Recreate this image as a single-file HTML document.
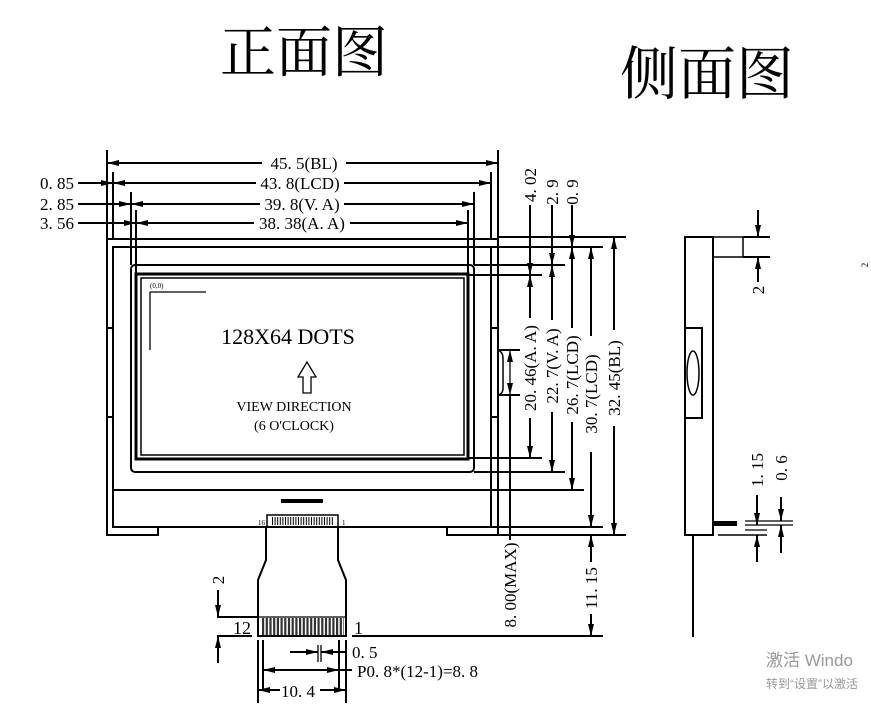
<!DOCTYPE html>
<html><head><meta charset="utf-8"><style>
html,body{margin:0;padding:0;background:#fff;}
svg{display:block;font-family:"Liberation Serif","Noto Serif CJK SC",serif;}
</style></head><body>
<svg width="871" height="710" viewBox="0 0 871 710" xmlns="http://www.w3.org/2000/svg">
<defs>
<marker id="a" viewBox="0 0 12 6" refX="12" refY="3" markerWidth="12" markerHeight="6" markerUnits="userSpaceOnUse" orient="auto-start-reverse"><path d="M0,0 L12,3 L0,6 Z" fill="#000"/></marker>
</defs>
<rect width="871" height="710" fill="#fff"/>
<text x="220" y="72" font-size="56" font-family="'Noto Serif CJK SC',serif">正面图</text>
<text x="620" y="94" font-size="58" font-family="'Noto Serif CJK SC',serif">侧面图</text>

<g stroke="#000" stroke-width="2" fill="none">
<line x1="107" y1="150" x2="107" y2="535"/><line x1="498" y1="150" x2="498" y2="535"/>
<line x1="113" y1="172" x2="113" y2="240"/><line x1="491" y1="172" x2="491" y2="240"/>
<line x1="131" y1="192" x2="131" y2="265"/><line x1="474" y1="192" x2="474" y2="265"/>
<line x1="136" y1="210" x2="136" y2="275"/><line x1="468" y1="210" x2="468" y2="275"/>
<line x1="107" y1="163" x2="262" y2="163" marker-start="url(#a)"/><line x1="346" y1="163" x2="498" y2="163" marker-end="url(#a)"/>
<line x1="78" y1="183" x2="113" y2="183" marker-end="url(#a)"/><line x1="113" y1="183" x2="256" y2="183" marker-start="url(#a)"/><line x1="344" y1="183" x2="491" y2="183" marker-end="url(#a)"/>
<line x1="78" y1="204" x2="131" y2="204" marker-end="url(#a)"/><line x1="131" y1="204" x2="260" y2="204" marker-start="url(#a)"/><line x1="344" y1="204" x2="474" y2="204" marker-end="url(#a)"/>
<line x1="78" y1="223" x2="136" y2="223" marker-end="url(#a)"/><line x1="136" y1="223" x2="254" y2="223" marker-start="url(#a)"/><line x1="350" y1="223" x2="468" y2="223" marker-end="url(#a)"/>

<path d="M107,239 H498 V535 H447 V527 H158 V535 H107 Z"/>
<rect x="113" y="247" width="378" height="280"/>
<line x1="113" y1="490" x2="491" y2="490"/>
<line x1="107" y1="328" x2="113" y2="328"/><line x1="107" y1="417" x2="113" y2="417"/>
<line x1="491" y1="328" x2="498" y2="328"/><line x1="491" y1="417" x2="498" y2="417"/>
<rect x="131" y="265" width="343" height="207" rx="4"/>
<rect x="136" y="274" width="332" height="185" stroke-width="3"/>
<rect x="141" y="278" width="323" height="177" stroke-width="1.5"/>
<line x1="150" y1="292" x2="206" y2="292" stroke-width="1.3"/><line x1="150" y1="292" x2="150" y2="350" stroke-width="1.3"/>
<path d="M303,393 V377 H298 L307,362 L316,377 H311 V393 Z" stroke-width="1.3"/>
<rect x="267" y="515" width="71" height="12" stroke-width="1.5"/>
<path d="M266,527 V560 L258,580 V636 H346 V580 L338,560 V527"/>
<line x1="258" y1="617" x2="346" y2="617" stroke-width="1.3"/>
<path d="M498,350 Q503,352 503,358 V388 Q503,394 498,395" stroke-width="1.5"/>
<line x1="498" y1="350" x2="520" y2="350"/><line x1="498" y1="395" x2="520" y2="395"/>
<line x1="510" y1="350" x2="510" y2="395" marker-start="url(#a)" marker-end="url(#a)" stroke-width="1.3"/>
<line x1="510" y1="395" x2="510" y2="540"/>
<line x1="498" y1="237" x2="626" y2="237"/>
<line x1="491" y1="247" x2="603" y2="247"/>
<line x1="474" y1="265" x2="565" y2="265"/>
<line x1="468" y1="275" x2="542" y2="275"/>
<line x1="468" y1="458" x2="542" y2="458"/>
<line x1="474" y1="472" x2="565" y2="472"/>
<line x1="491" y1="490" x2="584" y2="490"/>
<line x1="491" y1="527" x2="603" y2="527"/>
<line x1="498" y1="535" x2="626" y2="535"/>
<line x1="352" y1="636" x2="603" y2="636"/>
<line x1="530" y1="205" x2="530" y2="275" marker-end="url(#a)"/><line x1="530" y1="275" x2="530" y2="318" marker-start="url(#a)"/><line x1="530" y1="418" x2="530" y2="458" marker-end="url(#a)"/>
<line x1="552" y1="205" x2="552" y2="265" marker-end="url(#a)"/><line x1="552" y1="265" x2="552" y2="320" marker-start="url(#a)"/><line x1="552" y1="412" x2="552" y2="472" marker-end="url(#a)"/>
<line x1="572" y1="205" x2="572" y2="247" marker-end="url(#a)"/><line x1="572" y1="247" x2="572" y2="328" marker-start="url(#a)"/><line x1="572" y1="422" x2="572" y2="490" marker-end="url(#a)"/>
<line x1="591" y1="247" x2="591" y2="336" marker-start="url(#a)"/><line x1="591" y1="452" x2="591" y2="527" marker-end="url(#a)"/>
<line x1="614" y1="237" x2="614" y2="330" marker-start="url(#a)"/><line x1="614" y1="426" x2="614" y2="535" marker-end="url(#a)"/>
<line x1="591" y1="535" x2="591" y2="562" marker-start="url(#a)"/><line x1="591" y1="614" x2="591" y2="636" marker-end="url(#a)"/>
<line x1="217" y1="617" x2="258" y2="617"/><line x1="217" y1="636" x2="252" y2="636"/>
<line x1="218" y1="590" x2="218" y2="617" marker-end="url(#a)"/><line x1="218" y1="636" x2="218" y2="663" marker-start="url(#a)"/>
<line x1="258" y1="640" x2="258" y2="703"/><line x1="346" y1="640" x2="346" y2="703"/>
<line x1="263" y1="640" x2="263" y2="690"/><line x1="339" y1="640" x2="339" y2="690"/>
<line x1="318" y1="645" x2="318" y2="662" stroke-width="1.3"/><line x1="321" y1="645" x2="321" y2="662" stroke-width="1.3"/>
<line x1="290" y1="652" x2="318" y2="652" marker-end="url(#a)"/><line x1="321" y1="652" x2="346" y2="652" marker-start="url(#a)"/>
<line x1="263" y1="670" x2="339" y2="670" marker-start="url(#a)" marker-end="url(#a)"/><line x1="339" y1="670" x2="352" y2="670"/>
<line x1="258" y1="690" x2="280" y2="690" marker-start="url(#a)"/><line x1="320" y1="690" x2="346" y2="690" marker-end="url(#a)"/>
<rect x="685" y="237" width="28" height="298"/>
<rect x="713" y="237" width="30" height="20" stroke-width="1.5"/>
<rect x="685" y="328" width="17" height="90"/>
<ellipse cx="693" cy="373" rx="6" ry="22" stroke-width="1.5"/>
<line x1="693" y1="535" x2="693" y2="637"/>
<line x1="743" y1="237" x2="770" y2="237"/><line x1="743" y1="257" x2="770" y2="257"/>
<line x1="758" y1="210" x2="758" y2="237" marker-end="url(#a)"/><line x1="758" y1="257" x2="758" y2="282" marker-start="url(#a)"/>
<line x1="745" y1="521" x2="793" y2="521" stroke-width="1.3"/><line x1="745" y1="525" x2="793" y2="525" stroke-width="1.3"/>
<line x1="718" y1="535" x2="767" y2="535" stroke-width="1.5"/><line x1="745" y1="530" x2="767" y2="530" stroke-width="1.3"/>
<line x1="757" y1="495" x2="757" y2="525" marker-end="url(#a)"/><line x1="757" y1="535" x2="757" y2="562" marker-start="url(#a)"/>
<line x1="781" y1="497" x2="781" y2="521" marker-end="url(#a)"/><line x1="781" y1="525" x2="781" y2="553" marker-start="url(#a)"/>
</g>
<rect x="714" y="521" width="23" height="5" fill="#000"/>
<rect x="281" y="499" width="42" height="4" fill="#000"/>
<line x1="272" y1="521" x2="334" y2="521" stroke="#000" stroke-width="8" stroke-dasharray="1 1.6"/>
<line x1="262" y1="627" x2="344" y2="627" stroke="#000" stroke-width="18" stroke-dasharray="2.2 1.5" opacity="0.8"/>
<rect x="136" y="274" width="332" height="185" fill="none" stroke="#000" stroke-width="1" stroke-dasharray="1 1"/>

<g font-size="17" fill="#000">
<text x="304" y="169" text-anchor="middle">45. 5(BL)</text>
<text x="300" y="189" text-anchor="middle">43. 8(LCD)</text>
<text x="302" y="210" text-anchor="middle">39. 8(V. A)</text>
<text x="302" y="229" text-anchor="middle">38. 38(A. A)</text>
<text x="40" y="189">0. 85</text>
<text x="40" y="210">2. 85</text>
<text x="40" y="229">3. 56</text>
<text x="288" y="344" text-anchor="middle" font-size="22">128X64 DOTS</text>
<text x="294" y="411" text-anchor="middle" font-size="14">VIEW DIRECTION</text>
<text x="294" y="430" text-anchor="middle" font-size="14">(6 O'CLOCK)</text>
<text x="150" y="288" font-size="7">(0,0)</text>
<text x="258" y="525" font-size="7">16</text>
<text x="342" y="525" font-size="7">1</text>
<text x="233" y="634" font-size="18">12</text>
<text x="354" y="634" font-size="18">1</text>
<text x="352" y="658">0. 5</text>
<text x="357" y="677">P0. 8*(12-1)=8. 8</text>
<text x="281" y="697">10. 4</text>
<text transform="translate(224,580) rotate(-90)" text-anchor="middle">2</text>
<text transform="translate(536,185) rotate(-90)" text-anchor="middle">4. 02</text>
<text transform="translate(558,192) rotate(-90)" text-anchor="middle">2. 9</text>
<text transform="translate(578,192) rotate(-90)" text-anchor="middle">0. 9</text>
<text transform="translate(536,368) rotate(-90)" text-anchor="middle">20. 46(A. A)</text>
<text transform="translate(558,366) rotate(-90)" text-anchor="middle">22. 7(V. A)</text>
<text transform="translate(578,375) rotate(-90)" text-anchor="middle">26. 7(LCD)</text>
<text transform="translate(597,394) rotate(-90)" text-anchor="middle">30. 7(LCD)</text>
<text transform="translate(620,378) rotate(-90)" text-anchor="middle">32. 45(BL)</text>
<text transform="translate(516,585) rotate(-90)" text-anchor="middle">8. 00(MAX)</text>
<text transform="translate(597,588) rotate(-90)" text-anchor="middle">11. 15</text>
<text transform="translate(764,290) rotate(-90)" text-anchor="middle">2</text>
<text transform="translate(763,470) rotate(-90)" text-anchor="middle">1. 15</text>
<text transform="translate(787,468) rotate(-90)" text-anchor="middle">0. 6</text>
<text transform="translate(868,265) rotate(-90)" font-size="9" text-anchor="middle">2</text>
</g>
<text x="766" y="666" font-size="17" fill="#999" font-family="'Liberation Sans','Noto Sans CJK SC',sans-serif">激活 Windo</text>
<text x="766" y="688" font-size="12" fill="#999" font-family="'Liberation Sans','Noto Sans CJK SC',sans-serif">转到“设置”以激活</text>
</svg>
</body></html>
